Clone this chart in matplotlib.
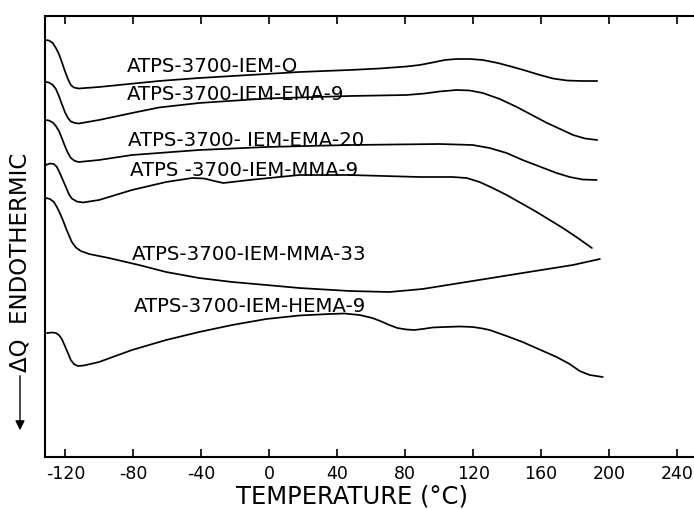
import matplotlib
matplotlib.use("Agg")
import matplotlib.pyplot as plt
from matplotlib.patches import FancyArrowPatch

plt.rcParams['font.family'] = ['DejaVu Sans']
plt.rcParams['axes.unicode_minus'] = False

# ---- data (temperature in degC, signal in arbitrary units) ----
t_iem0 = [-131.8, -129.7, -127.4, -125.6, -123.8, -122.1, -120.3, -118.5, -116.8, -115.0, -112.1, -100.2, -88.5,
          -64.9, -41.3, -11.8, 17.7, 47.2, 64.9, 80.8, 88.5, 96.2, 103.3, 110.3, 118.0, 125.7, 134.5, 143.4,
          151.6, 159.3, 167.0, 175.2, 184.1, 193.0]
q_iem0 = [417, 416.5, 414, 409, 403, 395, 386, 378, 372, 369.5, 368.5, 370, 372, 376, 379, 382, 385, 387,
          388.5, 390.5, 392, 394.5, 397, 398, 398, 397, 394, 390, 386, 382, 378.5, 376.5, 376, 376]

t_ema9 = [-131.8, -129.7, -127.4, -125.6, -123.8, -122.1, -120.3, -118.5, -116.8, -114.4, -112.1, -100.2, -80.8,
          -64.9, -41.3, -1.8, 47.2, 80.8, 91.4, 100.2, 110.3, 118.0, 125.7, 135.7, 145.7, 154.6, 163.5, 171.2,
          178.8, 185.9, 193.0]
q_ema9 = [375, 374.5, 372, 368, 361, 353, 345, 339, 335.5, 334, 333.5, 337, 344, 349.5, 354, 358.5, 361, 362,
          363.5, 365.5, 367, 366.5, 364, 358, 350, 342, 334, 328, 322, 318.5, 317]

t_ema20 = [-131.8, -129.7, -127.4, -125.6, -123.8, -122.1, -120.3, -118.5, -116.8, -114.4, -112.1, -100.2, -80.8,
           -41.3, -1.8, 47.2, 100.2, 119.7, 129.7, 139.7, 149.1, 159.1, 169.1, 176.8, 184.4, 192.7]
q_ema20 = [337, 336.5, 334.5, 331, 326, 319, 311, 304, 299, 296, 295, 297, 302, 307, 310, 312, 313, 312, 309,
           304, 297, 290.5, 284, 280, 277.5, 277]

t_mma9 = [-131.5, -129.1, -126.8, -125.0, -123.3, -121.5, -119.7, -118.0, -116.2, -113.3, -109.7, -100.2, -80.8,
          -60.7, -45.4, -38.3, -32.4, -27.1, -21.8, -11.8, 17.7, 47.2, 88.4, 107.9, 116.2, 123.8, 131.5, 139.7,
          148.6, 157.4, 165.1, 172.8, 181.6, 189.9]
q_mma9 = [292, 293.5, 293, 290, 284, 277, 270, 263, 258.5, 255.5, 254.5, 257, 267, 275, 279, 278.5, 276, 274,
          275, 277, 282, 282, 280, 280, 279, 275, 269, 262, 253.5, 245, 237, 229, 219, 209]

t_mma33 = [-131.5, -129.1, -126.8, -125.0, -123.3, -121.5, -119.7, -118.0, -116.2, -113.8, -110.9, -106.1, -94.4,
           -76.7, -60.7, -41.3, -21.8, -1.8, 17.7, 47.2, 70.7, 90.2, 119.7, 149.1, 178.7, 194.6]
q_mma33 = [259, 258, 255, 250, 244, 237, 229, 222, 215, 209.5, 206, 203, 199, 192, 185, 179, 175, 172, 169,
           166, 165, 168, 176, 184, 192, 198]

t_hema9 = [-130.9, -127.9, -125.6, -123.8, -122.1, -120.3, -118.5, -116.8, -115.0, -112.7, -109.1, -100.2, -80.8,
           -60.7, -41.3, -21.8, -1.8, 17.7, 35.4, 44.2, 53.1, 60.7, 66.0, 70.7, 75.4, 80.8, 85.5, 90.2, 96.2,
           103.3, 112.1, 119.7, 125.6, 129.7, 139.7, 149.1, 159.1, 169.1, 176.8, 182.7, 188.6, 196.3]
q_hema9 = [124, 124.5, 124, 122, 118, 111, 104, 97, 93, 91, 91.5, 95, 107, 117, 125, 132, 138, 141.5, 143,
           143.5, 142, 139, 135.5, 132, 129, 127.5, 127, 128, 129.5, 130, 130.5, 130, 128.5, 127, 121, 115,
           107.5, 100, 93, 86, 82, 80]

series = [
    ("ATPS-3700-IEM-O", t_iem0, q_iem0),
    ("ATPS-3700-IEM-EMA-9", t_ema9, q_ema9),
    ("ATPS-3700- IEM-EMA-20", t_ema20, q_ema20),
    ("ATPS -3700-IEM-MMA-9", t_mma9, q_mma9),
    ("ATPS-3700-IEM-MMA-33", t_mma33, q_mma33),
    ("ATPS-3700-IEM-HEMA-9", t_hema9, q_hema9),
]
# label anchor (left x in degC, centre y in signal units)
label_pos = [(-84, 392), (-84, 364), (-83, 317), (-82, 287), (-81, 204), (-80, 151)]

xticks = [-120, -80, -40, 0, 40, 80, 120, 160, 200, 240]

fig = plt.figure(figsize=(6.94, 5.10), dpi=100)
ax = fig.add_axes([45 / 694, 1 - 458 / 510, 1 - 45 / 694, (458 - 17) / 510])

for (name, t, q), (lx, ly) in zip(series, label_pos):
    ax.plot(t, q, color='black', lw=1.25, solid_joinstyle='round', solid_capstyle='round')
    ax.text(lx, ly, name, fontsize=14.2, va='center', ha='left', color='black')

ax.set_xlim(-132, 250)
ax.set_ylim(0, 441)
ax.set_xticks(xticks)
ax.set_xticklabels([str(v) for v in xticks], fontsize=12.5)
ax.set_yticks([])
ax.tick_params(axis='x', direction='in', length=6, width=1.2, top=True, pad=5)
for s in ['left', 'bottom', 'top']:
    ax.spines[s].set_linewidth(1.5)
ax.spines['right'].set_visible(False)

fig.text(352 / 694, 1 - 497 / 510, "TEMPERATURE (°C)", fontsize=17.5, ha='center', va='center')

# y label with arrow
fig.text(20 / 694, 1 - 262 / 510, "ΔQ  ENDOTHERMIC", rotation=90, fontsize=16.5,
         ha='center', va='center')
fig.add_artist(FancyArrowPatch(
    (20 / 694, 1 - 374 / 510), (20 / 694, 1 - 434 / 510),
    transform=fig.transFigure, arrowstyle='-|>', mutation_scale=14,
    color='black', lw=1.0))

fig.savefig("out.png", dpi=100)
